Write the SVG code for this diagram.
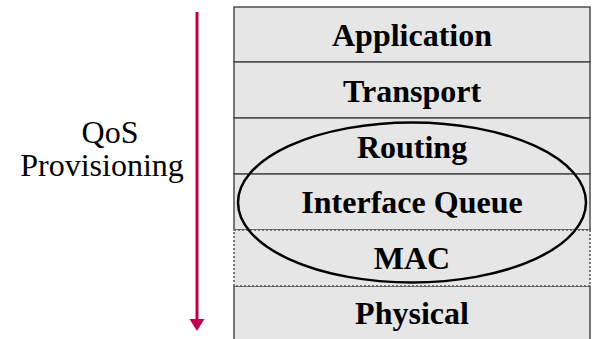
<svg xmlns="http://www.w3.org/2000/svg" width="592" height="339" viewBox="0 0 592 339">
<style>
.layer{fill:#e6e6e6;stroke:#4d4d4d;stroke-width:1.5}
.dotted{fill:#e6e6e6;stroke:#555;stroke-width:1.5;stroke-dasharray:2 2}
.lbl{font-family:"Liberation Serif","Times New Roman",serif;font-weight:bold;font-size:32px;text-anchor:middle;fill:#000}
.side{font-family:"Liberation Serif","Times New Roman",serif;font-size:32px;text-anchor:middle;fill:#000}
</style>
<defs>
<marker id="ah" markerWidth="15" markerHeight="12" refX="7.5" refY="0" orient="auto-start-reverse" markerUnits="userSpaceOnUse" viewBox="0 0 15 12">
<path d="M0,0 L15,0 L7.5,12 Z" fill="#c0004f"/>
</marker>
</defs>
<g id="application"><rect class="layer" x="234" y="7" width="356" height="55"/><text class="lbl" x="412" y="46">Application</text></g>
<g id="transport"><rect class="layer" x="234" y="62" width="356" height="56"/><text class="lbl" x="412" y="102">Transport</text></g>
<g id="routing"><rect class="layer" x="234" y="118" width="356" height="56"/><text class="lbl" x="412" y="158">Routing</text></g>
<g id="physical"><rect class="layer" x="234" y="286" width="356" height="60"/><text class="lbl" x="412" y="324">Physical</text></g>
<g id="interface-queue"><rect class="layer" x="234" y="174" width="356" height="56"/><text class="lbl" x="412" y="213">Interface Queue</text></g>
<g id="mac"><rect class="dotted" x="234" y="230" width="356" height="56"/><text class="lbl" x="412" y="269">MAC</text></g>
<g id="qos-scope"><ellipse cx="412" cy="202.5" rx="174" ry="80" fill="none" stroke="#000" stroke-width="2.5"/></g>
<g id="qos-label"><text class="side" x="110" y="143">QoS</text><text class="side" x="102" y="176">Provisioning</text></g>
<g id="connectors">
<line x1="197" y1="12" x2="197" y2="319" stroke="#c0004f" stroke-width="3"/>
<path d="M189.5,319 L204.5,319 L197,331 Z" fill="#c0004f"/>
</g>
</svg>
